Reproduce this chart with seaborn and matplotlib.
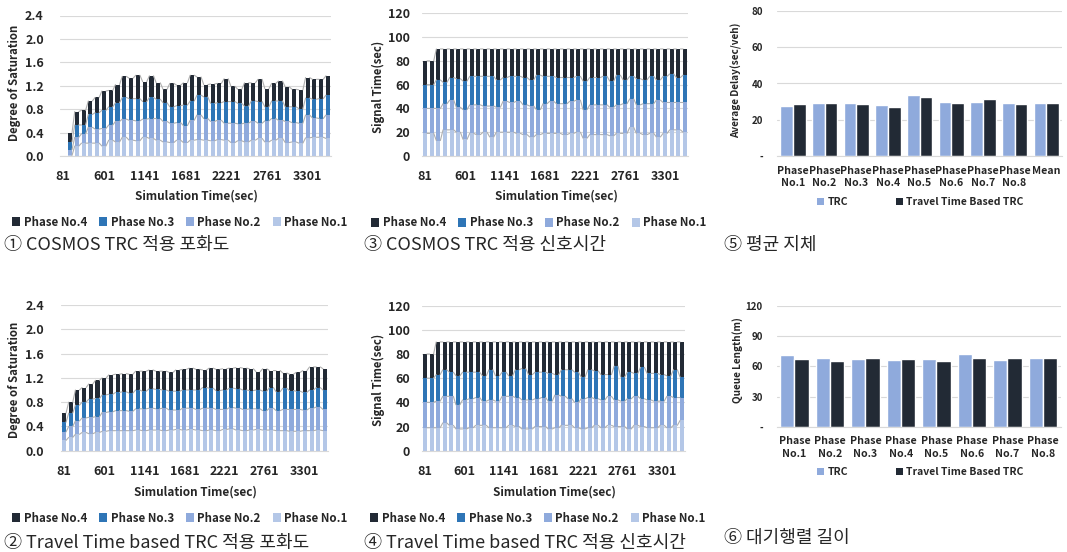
import matplotlib
matplotlib.use("Agg")
import matplotlib.pyplot as plt
from matplotlib.patches import Patch
import numpy as np
import pandas as pd
import seaborn as sns

W, H = 1067, 552

phase_names = ["Phase No.4", "Phase No.3", "Phase No.2", "Phase No.1"]
phase_colors = {
    "Phase No.1": "#b4c7e7",
    "Phase No.2": "#8faadc",
    "Phase No.3": "#2e75b6",
    "Phase No.4": "#222a35",
}
time_ticks = ["81", "601", "1141", "1681", "2221", "2761", "3301"]

# ① COSMOS TRC degree of saturation (first cycle has no value)
sat_cosmos_p1 = [0, 0.01, 0.17, 0.22, 0.22, 0.22, 0.17, 0.27, 0.24, 0.32, 0.27, 0.26, 0.32, 0.30,
                 0.27, 0.24, 0.23, 0.27, 0.23, 0.27, 0.28, 0.27, 0.26, 0.28, 0.27, 0.23, 0.26,
                 0.24, 0.27, 0.30, 0.24, 0.27, 0.30, 0.23, 0.24, 0.22, 0.31, 0.32, 0.32, 0.30]
sat_cosmos_p2 = [0, 0.10, 0.15, 0.16, 0.27, 0.24, 0.30, 0.26, 0.35, 0.31, 0.34, 0.34, 0.31, 0.34,
                 0.37, 0.35, 0.33, 0.30, 0.29, 0.34, 0.42, 0.37, 0.33, 0.33, 0.29, 0.33, 0.29,
                 0.32, 0.32, 0.26, 0.36, 0.37, 0.31, 0.36, 0.33, 0.34, 0.39, 0.33, 0.32, 0.40]
sat_cosmos_p3 = [0, 0.13, 0.21, 0.15, 0.22, 0.28, 0.31, 0.31, 0.32, 0.37, 0.37, 0.38, 0.30, 0.36,
                 0.33, 0.32, 0.28, 0.29, 0.35, 0.33, 0.34, 0.37, 0.31, 0.30, 0.37, 0.37, 0.35,
                 0.29, 0.35, 0.37, 0.24, 0.30, 0.33, 0.25, 0.27, 0.25, 0.29, 0.32, 0.34, 0.34]
sat_cosmos_p4 = [0, 0.16, 0.23, 0.25, 0.23, 0.26, 0.33, 0.28, 0.31, 0.36, 0.35, 0.40, 0.34, 0.37,
                 0.28, 0.23, 0.40, 0.35, 0.38, 0.44, 0.31, 0.21, 0.33, 0.33, 0.39, 0.26, 0.24,
                 0.40, 0.31, 0.38, 0.31, 0.30, 0.34, 0.34, 0.30, 0.32, 0.35, 0.34, 0.33, 0.33]

# ② Travel Time based TRC degree of saturation
sat_tt_p1 = [0.17, 0.22, 0.27, 0.30, 0.28, 0.30, 0.32, 0.33, 0.33, 0.33, 0.33, 0.34, 0.33, 0.34,
             0.34, 0.33, 0.34, 0.35, 0.34, 0.35, 0.34, 0.33, 0.34, 0.33, 0.35, 0.36, 0.34, 0.33,
             0.34, 0.35, 0.34, 0.34, 0.33, 0.33, 0.32, 0.32, 0.33, 0.33, 0.34, 0.33]
sat_tt_p2 = [0.14, 0.18, 0.22, 0.24, 0.27, 0.26, 0.31, 0.31, 0.33, 0.33, 0.32, 0.35, 0.36, 0.36,
             0.35, 0.37, 0.33, 0.32, 0.36, 0.35, 0.34, 0.37, 0.36, 0.35, 0.33, 0.35, 0.36, 0.35,
             0.35, 0.34, 0.32, 0.36, 0.33, 0.35, 0.36, 0.36, 0.34, 0.37, 0.38, 0.35]
sat_tt_p3 = [0.16, 0.22, 0.26, 0.26, 0.30, 0.30, 0.29, 0.29, 0.30, 0.31, 0.30, 0.31, 0.29, 0.32,
             0.32, 0.30, 0.31, 0.31, 0.30, 0.30, 0.32, 0.34, 0.33, 0.31, 0.32, 0.32, 0.32, 0.32,
             0.30, 0.31, 0.32, 0.34, 0.31, 0.35, 0.31, 0.30, 0.29, 0.30, 0.32, 0.32]
sat_tt_p4 = [0.15, 0.18, 0.25, 0.24, 0.25, 0.30, 0.28, 0.32, 0.30, 0.30, 0.31, 0.31, 0.33, 0.31,
             0.30, 0.31, 0.31, 0.35, 0.34, 0.36, 0.34, 0.29, 0.33, 0.35, 0.35, 0.33, 0.35, 0.36,
             0.36, 0.30, 0.37, 0.28, 0.35, 0.25, 0.27, 0.31, 0.36, 0.38, 0.34, 0.35]

# ③ COSMOS TRC signal time (sec)
sig_cosmos_p1 = [19, 19, 13, 22, 22, 20, 14, 19, 18, 20, 16, 20, 20, 20, 19, 18, 16, 18, 19, 19,
                 19, 18, 19, 20, 15, 18, 18, 18, 17, 19, 19, 24, 19, 18, 19, 16, 19, 22, 22, 20]
sig_cosmos_p2 = [21, 21, 27, 22, 25, 21, 25, 24, 25, 22, 26, 21, 26, 25, 27, 25, 26, 21, 25, 27,
                 25, 26, 27, 27, 24, 25, 25, 25, 24, 24, 25, 24, 24, 26, 25, 31, 26, 23, 23, 25]
sig_cosmos_p3 = [20, 20, 24, 18, 19, 24, 24, 24, 24, 25, 25, 23, 20, 22, 21, 23, 22, 29, 23, 21,
                 22, 22, 20, 20, 24, 23, 23, 24, 22, 25, 20, 19, 22, 20, 23, 17, 22, 24, 21, 23]
sig_cosmos_p4 = [20, 20, 26, 28, 24, 25, 27, 23, 23, 23, 23, 26, 24, 23, 23, 24, 26, 22, 23, 23,
                 24, 24, 24, 23, 27, 24, 24, 23, 27, 22, 26, 23, 25, 26, 23, 26, 23, 21, 24, 22]

# ④ Travel Time based TRC signal time (sec)
sig_tt_p1 = [19, 19, 19, 23, 21, 18, 18, 19, 21, 21, 19, 19, 19, 21, 20, 18, 18, 20, 20, 18,
             19, 21, 21, 19, 18, 19, 21, 19, 21, 20, 20, 18, 21, 20, 19, 19, 21, 19, 21, 25]
sig_tt_p2 = [21, 21, 22, 22, 24, 20, 24, 24, 23, 20, 23, 22, 26, 24, 24, 24, 24, 23, 24, 23,
             27, 24, 22, 21, 25, 25, 22, 23, 24, 22, 21, 25, 24, 23, 23, 22, 20, 26, 23, 19]
sig_tt_p3 = [20, 20, 22, 22, 20, 24, 23, 22, 21, 21, 25, 21, 20, 17, 23, 26, 21, 22, 21, 23,
             17, 22, 24, 25, 18, 23, 23, 21, 18, 28, 20, 22, 19, 26, 22, 23, 22, 17, 23, 17]
sig_tt_p4 = [20, 20, 27, 23, 25, 28, 25, 25, 25, 28, 23, 28, 25, 28, 23, 22, 27, 25, 25, 26,
             27, 23, 23, 25, 29, 23, 24, 27, 27, 20, 29, 25, 26, 21, 26, 26, 27, 28, 23, 29]

# ⑤ average delay (sec/veh)
delay_groups = ["Phase\nNo.1", "Phase\nNo.2", "Phase\nNo.3", "Phase\nNo.4", "Phase\nNo.5",
                "Phase\nNo.6", "Phase\nNo.7", "Phase\nNo.8", "Mean"]
delay_trc = [27.5, 29.2, 29.0, 28.0, 33.5, 29.7, 30.0, 29.2, 29.2]
delay_tt = [28.5, 29.0, 28.5, 27.3, 32.5, 29.3, 31.2, 28.5, 29.0]

# ⑥ queue length (m)
queue_groups = ["Phase\nNo.1", "Phase\nNo.2", "Phase\nNo.3", "Phase\nNo.4", "Phase\nNo.5",
                "Phase\nNo.6", "Phase\nNo.7", "Phase\nNo.8"]
queue_trc = [71.0, 68.0, 67.0, 66.5, 67.0, 72.0, 66.5, 68.5]
queue_tt = [67.5, 65.0, 68.0, 67.5, 65.0, 68.0, 68.0, 68.5]

method_names = ["TRC", "Travel Time Based TRC"]
method_colors = {"TRC": "#8faadc", "Travel Time Based TRC": "#222a35"}

sns.set_style("white")
plt.rcParams["font.family"] = ["Noto Sans CJK KR", "DejaVu Sans"]
GRID = "#d9d9d9"


def add_axes(fig, left, right, top, bottom):
    return fig.add_axes([left / W, 1 - bottom / H, (right - left) / W, (bottom - top) / H])


def style_axes(ax, yticks, ylabels, tick_size, ypad):
    ax.set_axisbelow(True)
    ax.yaxis.grid(True, color=GRID, lw=0.8)
    ax.xaxis.grid(False)
    for side in ["top", "right", "left"]:
        ax.spines[side].set_visible(False)
    ax.spines["bottom"].set_color(GRID)
    ax.set_yticks(yticks)
    ax.set_yticklabels(ylabels, fontsize=tick_size, fontweight="bold")
    ax.tick_params(axis="y", length=0, pad=ypad)
    ax.tick_params(axis="x", length=0)
    ax.set_xlabel("")
    ax.set_ylabel("")


def stacked_panel(ax, phases, ymax, yticks, ylabels, ypad):
    n = len(phases["Phase No.1"])
    rows = [{"cycle": i, "phase": name, "value": vals[i]}
            for name, vals in phases.items() for i in range(n)]
    df = pd.DataFrame(rows)
    width = 0.6
    sns.histplot(data=df, x="cycle", weights="value", hue="phase", hue_order=phase_names,
                 palette=phase_colors, multiple="stack", discrete=True, shrink=width,
                 alpha=1, linewidth=0, edgecolor="none", legend=False, ax=ax)
    # series lines between neighbouring stacks
    cum = np.zeros(n)
    total = np.sum([np.asarray(v) for v in phases.values()], axis=0)
    for name in phase_names[::-1]:
        cum = cum + np.asarray(phases[name], dtype=float)
        xs, ys = [], []
        for i in range(n - 1):
            if total[i] > 0 and total[i + 1] > 0:
                xs += [i + width / 2, i + 1 - width / 2, np.nan]
                ys += [cum[i], cum[i + 1], np.nan]
        ax.plot(xs, ys, color="#b0b0b0", lw=0.8, zorder=1)
    ax.set_xlim(-0.5, n - 0.5)
    ax.set_ylim(0, ymax)
    style_axes(ax, yticks, ylabels, 9, ypad)
    ax.set_xticks(range(0, 6 * len(time_ticks), 6))
    ax.set_xticklabels(time_ticks, fontsize=9, fontweight="bold")
    ax.tick_params(axis="x", pad=10)


def phase_legend(fig, x, y):
    handles = [Patch(facecolor=phase_colors[p], edgecolor="none") for p in phase_names]
    fig.legend(handles, phase_names, loc="center left", bbox_to_anchor=(x / W, 1 - y / H),
               ncol=4, frameon=False, handlelength=0.7, handleheight=0.7, handletextpad=0.3,
               columnspacing=1.05, borderpad=0, borderaxespad=0,
               prop={"weight": "bold", "size": 8.3})


def method_legend(fig, x, y):
    handles = [Patch(facecolor=method_colors[m], edgecolor="none") for m in method_names]
    fig.legend(handles, method_names, loc="center left", bbox_to_anchor=(x / W, 1 - y / H),
               ncol=2, frameon=False, handlelength=0.7, handleheight=0.7, handletextpad=0.3,
               columnspacing=4.6, borderpad=0, borderaxespad=0,
               prop={"weight": "bold", "size": 7.5})


def grouped_panel(ax, groups, trc, tt, ymax, yticks):
    df = pd.DataFrame({
        "group": groups + groups,
        "method": ["TRC"] * len(trc) + ["Travel Time Based TRC"] * len(tt),
        "value": trc + tt,
    })
    sns.barplot(data=df, x="group", y="value", hue="method", hue_order=method_names,
                palette=method_colors, errorbar=None, width=0.8, saturation=1,
                legend=False, ax=ax)
    ax.set_ylim(0, ymax)
    labels = ["-"] + [str(v) for v in yticks[1:]]
    style_axes(ax, yticks, labels, 7, 10)
    ax.set_xticks(range(len(groups)))
    ax.set_xticklabels(groups, fontsize=7.6, fontweight="bold", linespacing=1.3)
    ax.tick_params(axis="x", pad=7)


fig = plt.figure(figsize=(W / 100, H / 100), dpi=100)

sat_ticks = [0.0, 0.4, 0.8, 1.2, 1.6, 2.0, 2.4]
sat_labels = [f"{v:.1f}" for v in sat_ticks]
sig_ticks = [0, 20, 40, 60, 80, 100, 120]
sig_labels = [str(v) for v in sig_ticks]

ax1 = add_axes(fig, 59.8, 331.4, 15.5, 156)
stacked_panel(ax1, {"Phase No.1": sat_cosmos_p1, "Phase No.2": sat_cosmos_p2,
                    "Phase No.3": sat_cosmos_p3, "Phase No.4": sat_cosmos_p4},
              2.4, sat_ticks, sat_labels, 11.5)
ax2 = add_axes(fig, 60.7, 328.3, 305, 450.7)
stacked_panel(ax2, {"Phase No.1": sat_tt_p1, "Phase No.2": sat_tt_p2,
                    "Phase No.3": sat_tt_p3, "Phase No.4": sat_tt_p4},
              2.4, sat_ticks, sat_labels, 12)
ax3 = add_axes(fig, 421.7, 688.4, 13.3, 156)
stacked_panel(ax3, {"Phase No.1": sig_cosmos_p1, "Phase No.2": sig_cosmos_p2,
                    "Phase No.3": sig_cosmos_p3, "Phase No.4": sig_cosmos_p4},
              120, sig_ticks, sig_labels, 8.4)
ax4 = add_axes(fig, 421.7, 685.3, 305.7, 450.7)
stacked_panel(ax4, {"Phase No.1": sig_tt_p1, "Phase No.2": sig_tt_p2,
                    "Phase No.3": sig_tt_p3, "Phase No.4": sig_tt_p4},
              120, sig_ticks, sig_labels, 8.4)
ax5 = add_axes(fig, 777, 1062, 11, 156)
grouped_panel(ax5, delay_groups, delay_trc, delay_tt, 80, [0, 20, 40, 60, 80])
ax6 = add_axes(fig, 776.7, 1060.7, 306, 426.7)
grouped_panel(ax6, queue_groups, queue_trc, queue_tt, 120, [0, 30, 60, 90, 120])

# axis titles
lab = {"fontweight": "bold", "ha": "center", "va": "center"}
fig.text(196 / W, 1 - 196 / H, "Simulation Time(sec)", fontsize=8.5, **lab)
fig.text(195 / W, 1 - 492 / H, "Simulation Time(sec)", fontsize=8.5, **lab)
fig.text(556 / W, 1 - 196 / H, "Simulation Time(sec)", fontsize=8.5, **lab)
fig.text(554 / W, 1 - 492 / H, "Simulation Time(sec)", fontsize=8.5, **lab)
fig.text(15 / W, 1 - 83 / H, "Degree of Saturation", fontsize=8.2, rotation=90, **lab)
fig.text(15 / W, 1 - 380 / H, "Degree of Saturation", fontsize=8.2, rotation=90, **lab)
fig.text(378 / W, 1 - 87 / H, "Signal Time(sec)", fontsize=8.2, rotation=90, **lab)
fig.text(378 / W, 1 - 380 / H, "Signal Time(sec)", fontsize=8.2, rotation=90, **lab)
fig.text(736 / W, 1 - 80 / H, "Average Delay(sec/veh)", fontsize=7.2, rotation=90, **lab)
fig.text(738 / W, 1 - 360 / H, "Queue Length(m)", fontsize=7.2, rotation=90, **lab)

phase_legend(fig, 12, 222)
phase_legend(fig, 12, 518)
phase_legend(fig, 371, 223)
phase_legend(fig, 370, 518)
method_legend(fig, 817, 202)
method_legend(fig, 817, 472)

cap = {"fontsize": 13, "ha": "left", "va": "center"}
fig.text(4 / W, 1 - 245 / H, "① COSMOS TRC 적용 포화도", **cap)
fig.text(4 / W, 1 - 543 / H, "② Travel Time based TRC 적용 포화도", **cap)
fig.text(364 / W, 1 - 245 / H, "③ COSMOS TRC 적용 신호시간", **cap)
fig.text(364 / W, 1 - 543 / H, "④ Travel Time based TRC 적용 신호시간", **cap)
fig.text(724 / W, 1 - 245 / H, "⑤ 평균 지체", **cap)
fig.text(724 / W, 1 - 538 / H, "⑥ 대기행렬 길이", **cap)

fig.savefig("out.png", dpi=100)
